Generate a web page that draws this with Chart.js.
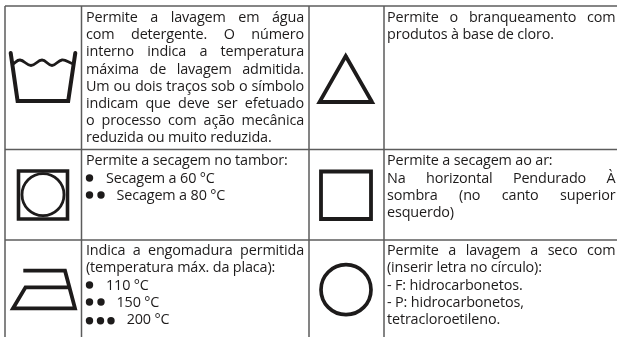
<!DOCTYPE html>
<html lang="pt">
<head>
<meta charset="utf-8">
<title>Símbolos de lavagem</title>
<script src="https://cdn.jsdelivr.net/npm/chart.js@4"></script>
<style>
  html, body { margin: 0; padding: 0; background: #fff; }
  canvas { display: block; }
</style>
</head>
<body>
<canvas id="myChart" width="617" height="337"></canvas>
<script>
// table frame
const columnEdges = [5, 81.5, 309, 384];
const rowEdges = [6, 149.5, 240];
const tableRight = 617;
const tableBottom = 337;

// symbol outlines, in picture units
const tubOutline = [[10.7, 53], [17.6, 101], [68.2, 101], [75.3, 53]];
const tubWave = [[13, 64], [20, 60], [31, 65.5], [42, 60], [52, 65.5], [62, 60], [72, 63.5]];
const triangleOutline = [[345.7, 56], [372, 102], [319.5, 102], [345.7, 56], [372, 102]];
const tumbleOutline = [[18.5, 171], [67.5, 171], [67.5, 219], [18.5, 219], [18.5, 171], [67.5, 171]];
const airOutline = [[321, 171.5], [371, 171.5], [371, 219], [321, 219], [321, 171.5], [371, 171.5]];
const ironOutline = [[23.3, 270.7], [65, 270.7], [75, 308.3], [13, 308.3], [25.5, 287.3], [68.3, 287.3]];
const ringCentres = [[43, 194.7], [346, 289.7]];
const ringRadius = [21, 25];
const ringWidth = [2.8, 3.7];

// bullets that stand for the temperature levels
const bulletX = [89.5, 89.5, 101, 89.5, 89.5, 101, 89.5, 100.5, 111];
const bulletY = [178, 195, 195, 285, 302, 302, 320.7, 320.7, 320.7];

// text lines
const textLines = [
  "Permite a lavagem em água",
  "com detergente. O número",
  "interno indica a temperatura",
  "máxima de lavagem admitida.",
  "Um ou dois traços sob o símbolo",
  "indicam que deve ser efetuado",
  "o processo com ação mecânica",
  "reduzida ou muito reduzida.",
  "Permite a secagem no tambor:",
  "Secagem a 60 °C",
  "Secagem a 80 °C",
  "Indica a engomadura permitida",
  "(temperatura máx. da placa):",
  "110 °C",
  "150 °C",
  "200 °C",
  "Permite o branqueamento com",
  "produtos à base de cloro.",
  "Permite a secagem ao ar:",
  "Na horizontal Pendurado À",
  "sombra (no canto superior",
  "esquerdo)",
  "Permite a lavagem a seco com",
  "(inserir letra no círculo):",
  "- F: hidrocarbonetos.",
  "- P: hidrocarbonetos,",
  "tetracloroetileno."
];
const textX = [86, 86, 86, 86, 86, 86, 86, 86, 86, 106, 116.5, 86, 86, 106, 116.5, 126.7, 387, 387, 387, 387, 387, 387, 387, 387, 387, 387, 387];
const textY = [22, 39, 56.3, 73.5, 90.5, 107.5, 124.7, 141.5, 165, 182.7, 200, 255, 272, 289.5, 306.5, 324, 22, 39, 165, 182.5, 199.5, 216.5, 255, 272, 289.5, 306.5, 324];
// right edge for justified lines, 0 leaves the line as it is
const textEnd = [304, 304, 304, 304, 304, 304, 304, 0, 0, 0, 0, 304, 0, 0, 0, 0, 615.5, 0, 0, 615.5, 615.5, 0, 615.5, 0, 0, 0, 0];

const ink = "#1d1b1b";
const rule = "#5c5c5c";

function toPoints(list) {
  return list.map(function (p) { return { x: p[0], y: p[1] }; });
}

function lineSet(list, width, color, extra) {
  return Object.assign({
    data: toPoints(list),
    showLine: true,
    borderColor: color,
    borderWidth: width,
    borderJoinStyle: "miter",
    pointRadius: 0,
    fill: false
  }, extra || {});
}

const frameSets = [];
columnEdges.forEach(function (x) {
  frameSets.push(lineSet([[x, rowEdges[0]], [x, tableBottom]], 1.5, rule));
});
rowEdges.forEach(function (y) {
  frameSets.push(lineSet([[columnEdges[0], y], [tableRight, y]], 1.5, rule));
});

const ringSets = ringCentres.map(function (c, i) {
  return {
    data: toPoints([c]),
    pointStyle: "circle",
    pointRadius: ringRadius[i],
    pointBorderWidth: ringWidth[i],
    pointBorderColor: ink,
    pointBackgroundColor: "transparent",
    showLine: false
  };
});

const bulletSet = {
  data: bulletX.map(function (x, i) { return { x: x, y: bulletY[i] }; }),
  pointStyle: "circle",
  pointRadius: 3.7,
  pointBorderWidth: 0,
  pointBackgroundColor: ink,
  showLine: false
};

// chart.js has no text marks so the lines go on in a small plugin
const textPlugin = {
  id: "tableText",
  afterDatasetsDraw: function (chart) {
    const ctx = chart.ctx;
    const xs = chart.scales.x;
    const ys = chart.scales.y;
    ctx.save();
    ctx.font = "14.4px 'Open Sans'";
    ctx.letterSpacing = "-0.15px";
    ctx.fillStyle = ink;
    ctx.textBaseline = "alphabetic";
    textLines.forEach(function (line, i) {
      const left = xs.getPixelForValue(textX[i]);
      let extra = 0;
      if (textEnd[i]) {
        ctx.wordSpacing = "0px";
        const gaps = line.split(" ").length - 1;
        extra = (xs.getPixelForValue(textEnd[i]) - left - ctx.measureText(line).width) / gaps;
      }
      ctx.wordSpacing = extra + "px";
      ctx.fillText(line, left, ys.getPixelForValue(textY[i]));
    });
    ctx.restore();
  }
};

new Chart("myChart", {
  type: "scatter",
  data: {
    datasets: frameSets.concat([
      lineSet(tubOutline, 4, ink, { borderCapStyle: "round" }),
      lineSet(tubWave, 2.8, ink, { tension: 0.4, borderCapStyle: "round" }),
      lineSet(triangleOutline, 3.8, ink),
      lineSet(tumbleOutline, 3.6, ink),
      lineSet(airOutline, 3.8, ink),
      lineSet(ironOutline, 3.8, ink)
    ], ringSets, [bulletSet])
  },
  options: {
    responsive: false,
    animation: false,
    events: [],
    layout: { padding: 0, autoPadding: false },
    plugins: {
      legend: { display: false },
      tooltip: { enabled: false }
    },
    scales: {
      x: { type: "linear", display: false, min: 0, max: 617 },
      y: { type: "linear", display: false, min: 0, max: 337, reverse: true }
    }
  },
  plugins: [textPlugin]
});
</script>
</body>
</html>
